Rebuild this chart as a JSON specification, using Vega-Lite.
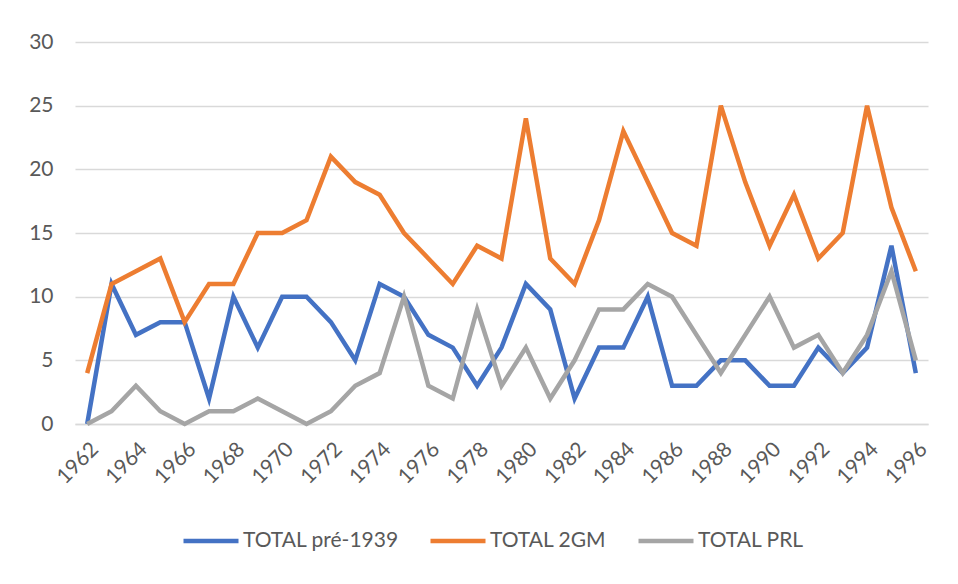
{
  "$schema": "https://vega.github.io/schema/vega-lite/v6.json",
  "autosize": {"type": "none"},
  "width": 853,
  "height": 382,
  "padding": {"left": 75, "top": 42, "right": 30, "bottom": 160},
  "background": "white",
  "config": {
    "font": "Lato",
    "view": {"stroke": null}
  },
  "data": {
    "values": [
      {"year": 1962, "TOTAL pré-1939": 0, "TOTAL 2GM": 4, "TOTAL PRL": 0},
      {"year": 1963, "TOTAL pré-1939": 11, "TOTAL 2GM": 11, "TOTAL PRL": 1},
      {"year": 1964, "TOTAL pré-1939": 7, "TOTAL 2GM": 12, "TOTAL PRL": 3},
      {"year": 1965, "TOTAL pré-1939": 8, "TOTAL 2GM": 13, "TOTAL PRL": 1},
      {"year": 1966, "TOTAL pré-1939": 8, "TOTAL 2GM": 8, "TOTAL PRL": 0},
      {"year": 1967, "TOTAL pré-1939": 2, "TOTAL 2GM": 11, "TOTAL PRL": 1},
      {"year": 1968, "TOTAL pré-1939": 10, "TOTAL 2GM": 11, "TOTAL PRL": 1},
      {"year": 1969, "TOTAL pré-1939": 6, "TOTAL 2GM": 15, "TOTAL PRL": 2},
      {"year": 1970, "TOTAL pré-1939": 10, "TOTAL 2GM": 15, "TOTAL PRL": 1},
      {"year": 1971, "TOTAL pré-1939": 10, "TOTAL 2GM": 16, "TOTAL PRL": 0},
      {"year": 1972, "TOTAL pré-1939": 8, "TOTAL 2GM": 21, "TOTAL PRL": 1},
      {"year": 1973, "TOTAL pré-1939": 5, "TOTAL 2GM": 19, "TOTAL PRL": 3},
      {"year": 1974, "TOTAL pré-1939": 11, "TOTAL 2GM": 18, "TOTAL PRL": 4},
      {"year": 1975, "TOTAL pré-1939": 10, "TOTAL 2GM": 15, "TOTAL PRL": 10},
      {"year": 1976, "TOTAL pré-1939": 7, "TOTAL 2GM": 13, "TOTAL PRL": 3},
      {"year": 1977, "TOTAL pré-1939": 6, "TOTAL 2GM": 11, "TOTAL PRL": 2},
      {"year": 1978, "TOTAL pré-1939": 3, "TOTAL 2GM": 14, "TOTAL PRL": 9},
      {"year": 1979, "TOTAL pré-1939": 6, "TOTAL 2GM": 13, "TOTAL PRL": 3},
      {"year": 1980, "TOTAL pré-1939": 11, "TOTAL 2GM": 24, "TOTAL PRL": 6},
      {"year": 1981, "TOTAL pré-1939": 9, "TOTAL 2GM": 13, "TOTAL PRL": 2},
      {"year": 1982, "TOTAL pré-1939": 2, "TOTAL 2GM": 11, "TOTAL PRL": 5},
      {"year": 1983, "TOTAL pré-1939": 6, "TOTAL 2GM": 16, "TOTAL PRL": 9},
      {"year": 1984, "TOTAL pré-1939": 6, "TOTAL 2GM": 23, "TOTAL PRL": 9},
      {"year": 1985, "TOTAL pré-1939": 10, "TOTAL 2GM": 19, "TOTAL PRL": 11},
      {"year": 1986, "TOTAL pré-1939": 3, "TOTAL 2GM": 15, "TOTAL PRL": 10},
      {"year": 1987, "TOTAL pré-1939": 3, "TOTAL 2GM": 14, "TOTAL PRL": 7},
      {"year": 1988, "TOTAL pré-1939": 5, "TOTAL 2GM": 25, "TOTAL PRL": 4},
      {"year": 1989, "TOTAL pré-1939": 5, "TOTAL 2GM": 19, "TOTAL PRL": 7},
      {"year": 1990, "TOTAL pré-1939": 3, "TOTAL 2GM": 14, "TOTAL PRL": 10},
      {"year": 1991, "TOTAL pré-1939": 3, "TOTAL 2GM": 18, "TOTAL PRL": 6},
      {"year": 1992, "TOTAL pré-1939": 6, "TOTAL 2GM": 13, "TOTAL PRL": 7},
      {"year": 1993, "TOTAL pré-1939": 4, "TOTAL 2GM": 15, "TOTAL PRL": 4},
      {"year": 1994, "TOTAL pré-1939": 6, "TOTAL 2GM": 25, "TOTAL PRL": 7},
      {"year": 1995, "TOTAL pré-1939": 14, "TOTAL 2GM": 17, "TOTAL PRL": 12},
      {"year": 1996, "TOTAL pré-1939": 4, "TOTAL 2GM": 12, "TOTAL PRL": 5}
    ]
  },
  "transform": [
    {"fold": ["TOTAL pré-1939", "TOTAL 2GM", "TOTAL PRL"], "as": ["series", "value"]}
  ],
  "mark": {"type": "line", "strokeWidth": 4.5, "strokeJoin": "miter", "strokeCap": "butt"},
  "encoding": {
    "x": {
      "field": "year",
      "type": "ordinal",
      "scale": {"type": "point", "padding": 0.5},
      "axis": {
        "title": null,
        "values": [1962,1964,1966,1968,1970,1972,1974,1976,1978,1980,1982,1984,1986,1988,1990,1992,1994,1996],
        "labelAngle": -45,
        "labelAlign": "right",
        "labelBaseline": "top",
        "labelPadding": 14,
        "labelFontSize": 21,
        "labelFont": "Lato",
        "labelColor": "#595959",
        "ticks": false,
        "domain": true,
        "domainColor": "#D9D9D9",
        "domainWidth": 1.5,
        "grid": false
      }
    },
    "y": {
      "field": "value",
      "type": "quantitative",
      "scale": {"domain": [0, 30], "nice": false},
      "axis": {
        "title": null,
        "values": [0, 5, 10, 15, 20, 25, 30],
        "ticks": false,
        "domain": false,
        "gridColor": "#D9D9D9",
        "gridWidth": 1.5,
        "labelPadding": 22,
        "labelFontSize": 21,
        "labelFont": "Lato",
        "labelColor": "#595959"
      }
    },
    "color": {
      "field": "series",
      "type": "nominal",
      "scale": {
        "domain": ["TOTAL pré-1939", "TOTAL 2GM", "TOTAL PRL"],
        "range": ["#4472C4", "#ED7D31", "#A5A5A5"]
      },
      "legend": {
        "title": null,
        "orient": "none",
        "legendX": 106,
        "legendY": 469,
        "direction": "horizontal",
        "symbolType": "stroke",
        "symbolSize": 3025,
        "symbolStrokeWidth": 4.5,
        "labelFontSize": 21,
        "labelColor": "#595959",
        "labelFont": "Lato",
        "labelOffset": 2,
        "columnPadding": 22
      }
    }
  }
}
